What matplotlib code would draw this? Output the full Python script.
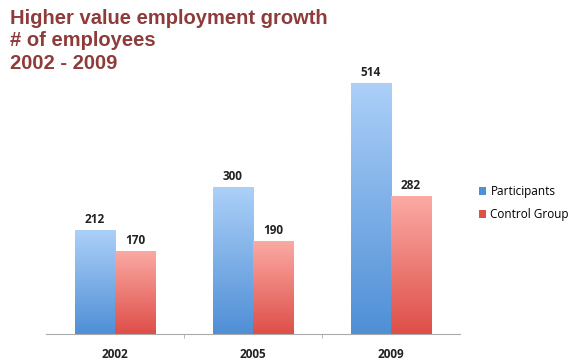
import numpy as np
import matplotlib
matplotlib.use('Agg')
import matplotlib.pyplot as plt
from matplotlib.colors import LinearSegmentedColormap

years = ['2002', '2005', '2009']
participants = [212, 300, 514]
control = [170, 190, 282]

TITLE_COLOR = '#8e3b3b'
BLUE_TOP, BLUE_BOT = '#acd0f8', '#4f8fd6'
RED_TOP, RED_BOT = '#fbaaa4', '#de4f48'

plt.rcParams['font.family'] = ['Open Sans', 'DejaVu Sans']

fig = plt.figure(figsize=(5.81, 3.62), dpi=100)
ax = fig.add_axes([46 / 581, 1 - 334 / 362, 414 / 581, 274 / 362])

x = np.arange(len(years))
w = 0.29
bars_p = ax.bar(x - w / 2, participants, w, color=BLUE_BOT, label='Participants')
bars_c = ax.bar(x + w / 2, control, w, color=RED_BOT, label='Control Group')


def gradient_fill(bars, top, bot):
    cmap = LinearSegmentedColormap.from_list('g', [bot, top])
    grad = np.linspace(0, 1, 256).reshape(-1, 1)
    for b in bars:
        x0, y0 = b.get_x(), b.get_y()
        im = ax.imshow(grad, cmap=cmap, aspect='auto', origin='lower',
                       extent=[x0, x0 + b.get_width(), y0, y0 + b.get_height()], zorder=2)
        im.set_clip_path(b)
        b.set_alpha(0)


gradient_fill(bars_p, BLUE_TOP, BLUE_BOT)
gradient_fill(bars_c, RED_TOP, RED_BOT)

for bars, vals in ((bars_p, participants), (bars_c, control)):
    for b, v in zip(bars, vals):
        ax.text(b.get_x() + b.get_width() / 2, v + 8, str(v), ha='center', va='bottom',
                fontsize=8.5, fontweight='bold', color='#222222')

ax.set_xlim(-0.5, 2.5)
ax.set_ylim(0, 560)
ax.set_xticks(x)
ax.set_xticklabels(years, fontsize=8.5, fontweight='bold', color='#222222')
ax.set_xticks([0.5, 1.5], minor=True)
ax.tick_params(axis='x', which='major', length=0, pad=10)
ax.tick_params(axis='x', which='minor', length=3, color='#aaaaaa')
ax.set_yticks([])
for s in ('top', 'right', 'left'):
    ax.spines[s].set_visible(False)
ax.spines['bottom'].set_color('#aaaaaa')

leg = fig.legend(handles=[bars_p[0], bars_c[0]], labels=['Participants', 'Control Group'],
                 loc='center left', bbox_to_anchor=(468 / 581, 1 - 203 / 362),
                 frameon=False, fontsize=8.5, handlelength=0.6, handleheight=0.6,
                 handletextpad=0.4, labelspacing=0.85)
for h, c in zip(leg.legend_handles, (BLUE_BOT, RED_BOT)):
    h.set_alpha(1)
    h.set_facecolor(c)

fig.text(10 / 581, 1 - 9 / 362, 'Higher value employment growth\n# of employees\n2002 - 2009',
         ha='left', va='top', fontsize=14.5, fontweight='bold', color=TITLE_COLOR,
         family=['Liberation Sans', 'DejaVu Sans'], linespacing=1.22)

fig.savefig('out.png', dpi=100)
